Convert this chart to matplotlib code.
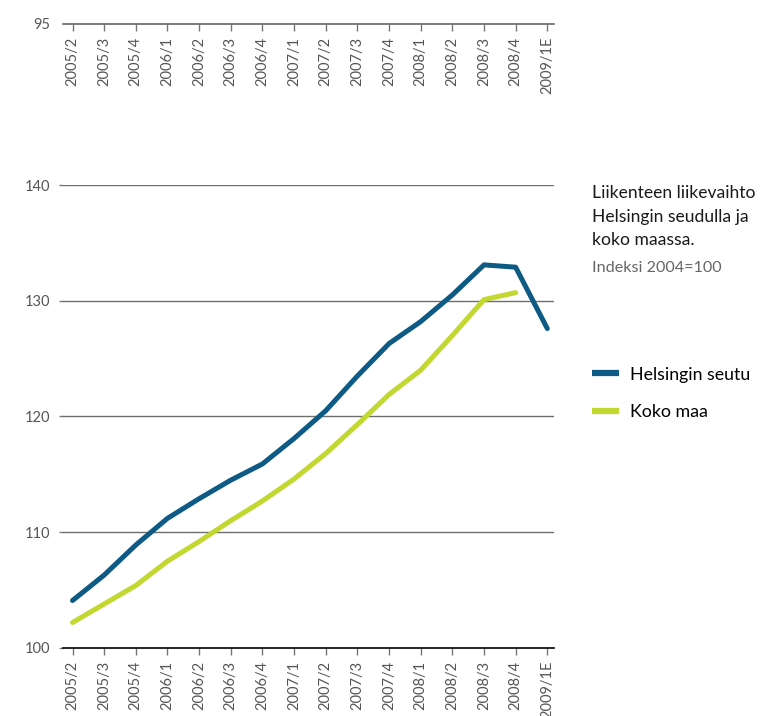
import matplotlib
matplotlib.use("Agg")
import matplotlib.pyplot as plt

plt.rcParams['font.family'] = ['Lato', 'DejaVu Sans']

quarters = ["2005/2", "2005/3", "2005/4", "2006/1", "2006/2", "2006/3", "2006/4",
            "2007/1", "2007/2", "2007/3", "2007/4", "2008/1", "2008/2", "2008/3",
            "2008/4", "2009/1E"]
helsinki = [104.1, 106.3, 108.9, 111.2, 112.9, 114.5, 115.9, 118.1, 120.5,
            123.5, 126.3, 128.2, 130.5, 133.1, 132.9, 127.6]
koko_maa = [102.2, 103.8, 105.4, 107.5, 109.2, 111.0, 112.7, 114.6, 116.8,
            119.3, 121.9, 124.0, 127.0, 130.1, 130.7]

blue = "#0d5b85"
green = "#c2d72f"
tick_col = "#555555"

fig = plt.figure(figsize=(7.63, 7.16), dpi=100)

# main chart
ax = fig.add_axes([0.0826, 0.095, 0.643, 0.6466])
xs = list(range(len(quarters)))
ax.plot(xs, helsinki, color=blue, lw=3.6, solid_capstyle='round', label="Helsingin seutu", zorder=3)
ax.plot(xs[:len(koko_maa)], koko_maa, color=green, lw=3.6, solid_capstyle='round', label="Koko maa", zorder=3)
ax.set_xlim(-0.3, 15.2)
ax.set_ylim(100, 140)
ax.set_yticks([100, 110, 120, 130, 140])
ax.set_xticks(xs)
ax.set_xticklabels(quarters, rotation=90, fontsize=10.5, color=tick_col)
ax.tick_params(axis='y', length=3, width=1, color="#777777", labelsize=10.5, labelcolor=tick_col, pad=6)
ax.tick_params(axis='x', length=5, width=1, color="#777777", pad=4)
for v in [110, 120, 130, 140]:
    ax.axhline(v, color="#6e6e6e", lw=1, zorder=1)
for s in ['top', 'right', 'left']:
    ax.spines[s].set_visible(False)
ax.spines['bottom'].set_color("black")
ax.spines['bottom'].set_linewidth(1.2)

# top strip of the broken axis
ax2 = fig.add_axes([0.0826, 0.9665, 0.643, 0.001])
ax2.set_xlim(-0.3, 15.2)
ax2.set_ylim(95, 96)
ax2.set_yticks([95])
ax2.set_xticks(xs)
ax2.set_xticklabels(quarters, rotation=90, fontsize=10.5, color=tick_col)
ax2.tick_params(axis='y', length=0, labelsize=10.5, labelcolor=tick_col, pad=9)
ax2.tick_params(axis='x', length=5, width=1, color="#777777", pad=4)
for s in ['top', 'right', 'left']:
    ax2.spines[s].set_visible(False)
ax2.spines['bottom'].set_color("#666666")
ax2.spines['bottom'].set_linewidth(1.2)
ax2.patch.set_visible(False)

# title block and legend
fig.text(0.776, 0.741, "Liikenteen liikevaihto\nHelsingin seudulla ja\nkoko maassa.",
         fontsize=12.6, color="#1a1a1a", va='top', ha='left', linespacing=1.55)
fig.text(0.776, 0.636, "Indeksi 2004=100", fontsize=11.6, color="#666666", va='top', ha='left')
leg = fig.legend(loc='upper left', bbox_to_anchor=(0.767, 0.498), frameon=False,
                 fontsize=12.8, handlelength=1.5, handletextpad=0.6, labelspacing=1.2,
                 borderaxespad=0)
for h in leg.get_lines():
    h.set_solid_capstyle('butt')
    h.set_linewidth(4.5)

fig.savefig("out.png", dpi=100)
